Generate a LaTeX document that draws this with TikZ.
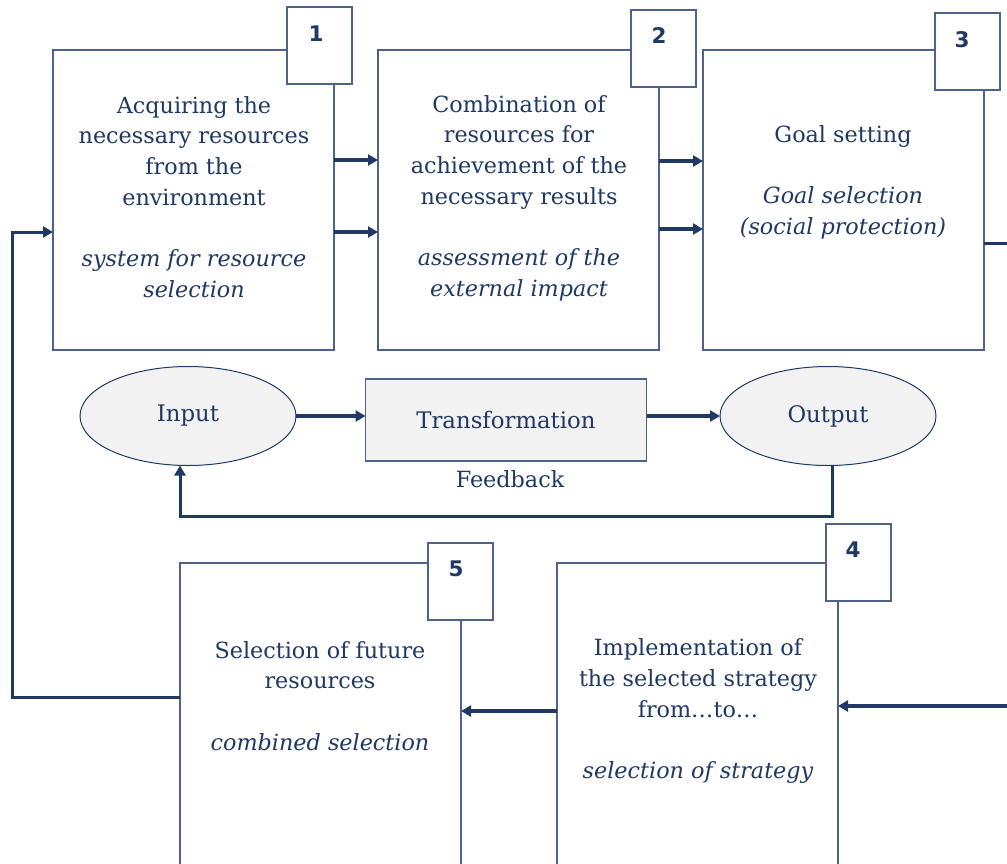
\documentclass[tikz,border=0pt]{standalone}
\usepackage{fontspec}
\setmainfont{DejaVu Serif}
\newfontfamily\numfont{DejaVu Sans}
\usetikzlibrary{arrows.meta,shapes.geometric}
\definecolor{navy}{HTML}{1F3864}
\definecolor{edge}{HTML}{4F628A}
\definecolor{shade}{HTML}{F2F2F2}

\tikzset{
  stage/.style={draw=edge, line width=1.5pt, fill=white, anchor=north west,
    minimum width=281pt, minimum height=300pt, inner sep=0pt, outer sep=0pt},
  numbox/.style={draw=edge, line width=1.5pt, fill=white, anchor=north west,
    minimum width=65pt, minimum height=77pt, inner sep=0pt, outer sep=0pt},
  numtxt/.style={font=\numfont\bfseries\fontsize{21.5}{24}\selectfont, text=navy},
  txt/.style={align=center, text=navy, inner sep=0pt,
    font=\fontsize{22.3}{30.7}\selectfont},
  oval/.style={ellipse, draw=navy, line width=1pt, fill=shade, text=navy,
    minimum width=216pt, minimum height=99pt, inner sep=0pt, outer sep=0pt,
    font=\fontsize{22.8}{26}\selectfont},
  proc/.style={draw=edge, line width=1.5pt, fill=shade, text=navy,
    minimum width=281pt, minimum height=82pt, inner sep=0pt, outer sep=0pt,
    font=\fontsize{22.8}{26}\selectfont},
  arr/.style={draw=navy, line width=3.2pt, -{Triangle[length=10pt,width=11pt]}},
  looparr/.style={draw=navy, line width=3pt, -{Triangle[length=10pt,width=11pt]}},
  link/.style={draw=navy, line width=3pt},
}

\begin{document}
\begin{tikzpicture}[x=1pt,y=-1pt]
\useasboundingbox (0,0) rectangle (1007,863);
\clip (0,0) rectangle (1007,863);

% stage boxes
\node[stage] (b1) at (53,50) {};
\node[stage] (b2) at (378,50) {};
\node[stage] (b3) at (703,50) {};
\node[stage, minimum height=330pt] (b5) at (180,563) {};
\node[stage, minimum height=330pt] (b4) at (557,563) {};

% number tags
\node[numbox] (n1) at (287,7) {};
\node[numbox] (n2) at (631,10) {};
\node[numbox] (n3) at (935,13) {};
\node[numbox] (n4) at (826,524) {};
\node[numbox] (n5) at (428,543) {};
\node[numtxt] (t1) at (316,34) {1};
\node[numtxt] (t2) at (659,36) {2};
\node[numtxt] (t3) at (962,40) {3};
\node[numtxt] (t4) at (853,550) {4};
\node[numtxt] (t5) at (456,569) {5};

% stage texts
\node[txt] (s1) at (194,197) {Acquiring the\\ necessary resources\\ from the\\ environment\\[30.7pt]
  \itshape system for resource\\ \itshape selection};
\node[txt] (s2) at (519,198) {Combination of\\ resources for\\ achievement of the\\ necessary results\\[30.7pt]
  \itshape assessment of the\\ \itshape external impact};
\node[txt] (s3) at (843,182) {Goal setting\\[30.7pt]
  \itshape Goal selection\\ \itshape (social protection)};
\node[txt] (s5) at (320,696) {Selection of future\\ resources\\[30.7pt]
  \itshape combined selection};
\node[txt] (s4) at (698,711) {Implementation of\\ the selected strategy\\ from\ldots to\ldots\\[30.7pt]
  \itshape selection of strategy};

% input - transformation - output
\node[oval] (in) at (188,416) {Input};
\node[proc] (tr) at (506,420) {Transformation};
\node[oval] (out) at (828,416) {Output};
\node[txt] (fb) at (510,479) {Feedback};

\draw[arr] (in.east) -- (tr.west |- in.east);
\draw[arr] (tr.east |- out.west) -- (out.west);
\coordinate (fbr) at (832,516);
\coordinate (fbl) at (180,516);
\draw[looparr] (out.south -| fbr) -- (fbr) -- (fbl) -- (in.south -| fbl);

% arrows between stages
\draw[arr] (b1.east |- 0,160) -- (b2.west |- 0,160);
\draw[arr] (b1.east |- 0,232) -- (b2.west |- 0,232);
\draw[arr] (b2.east |- 0,161) -- (b3.west |- 0,161);
\draw[arr] (b2.east |- 0,229) -- (b3.west |- 0,229);
\draw[arr] (b4.west |- 0,711) -- (b5.east |- 0,711);

% outer loop
\coordinate (lb) at (12,697);
\coordinate (lt) at (12,232);
\draw[looparr] (b5.west |- lb) -- (lb) -- (lt) -- (b1.west |- lt);
\coordinate (r3) at (1012,243);
\draw[link] (b3.east |- r3) -- (r3);
\coordinate (r4) at (1012,706);
\draw[arr] (r4) -- (b4.east |- r4);
\end{tikzpicture}
\end{document}
